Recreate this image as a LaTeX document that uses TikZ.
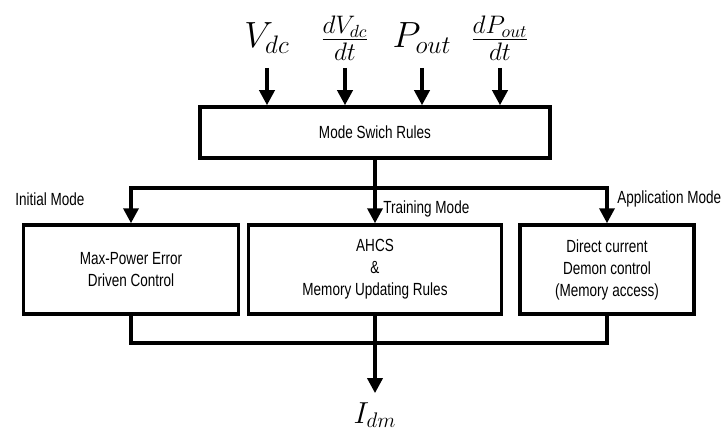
\documentclass[tikz,border=0pt]{standalone}
\usepackage{fontspec}
\setmainfont{Liberation Sans}[FakeStretch=0.77]
\usetikzlibrary{arrows.meta, positioning}
\tikzset{
  rulesnode/.style={draw, rectangle, line width=2pt, minimum width=7cm, minimum height=1.02cm, align=center, font=\fontsize{10}{12.5}\selectfont},
  modenode/.style={draw, rectangle, line width=2pt, minimum height=1.78cm, align=center, font=\fontsize{10}{12.5}\selectfont},
  modelabel/.style={inner sep=0pt, anchor=west, font=\fontsize{10}{12.5}\selectfont},
  signalnode/.style={inner sep=0pt, anchor=base, font=\fontsize{20}{24}\selectfont},
  arrow/.style={-{Triangle[length=0.3cm, width=0.3cm]}, line width=2pt},
  plainline/.style={line width=2pt}
}
\begin{document}
\begin{tikzpicture}[x=0.02cm, y=-0.02cm]
\useasboundingbox (0,0) rectangle (722,435);

% Nodes
\node[rulesnode] (rules) at (375,132.5) {Mode Swich Rules};
\node[modenode, minimum width=4.3cm] (initial) at (131,269.5) {Max-Power Error\\Driven Control};
\node[modenode, minimum width=5.06cm] (training) at (375,269.5) {AHCS\\\&\\Memory Updating Rules};
\node[modenode, minimum width=3.48cm] (application) at (607,269.5) {Direct current\\Demon control\\(Memory access)};

% Signals
\node[signalnode] (vdc) at (267,48) {$V_{dc}$};
\node[signalnode] (dvdc) at (345,48) {$\frac{dV_{dc}}{dt}$};
\node[signalnode] (pout) at (422,48) {$P_{out}$};
\node[signalnode] (dpout) at (500,48) {$\frac{dP_{out}}{dt}$};
\node[signalnode, font=\fontsize{18}{22}\selectfont] (idm) at (375,423) {$I_{dm}$};

% Mode labels
\node[modelabel] (initlabel) at (15,199) {Initial Mode};
\node[modelabel] (trainlabel) at (383,209) {Training Mode};
\node[modelabel] (applabel) at (617,199) {Application Mode};

\coordinate (intop) at (0,68);
\coordinate (split) at (375,188);
\coordinate (merge) at (375,343);

% Connections
\foreach \s in {vdc, dvdc, pout, dpout}
  \draw[arrow] (\s |- intop) -- (\s |- rules.north);
\draw[arrow] (rules.south) -- (training.north);
\draw[arrow] (split) -| (initial.north);
\draw[arrow] (split) -| (application.north);
\draw[plainline] (initial.south) |- (merge) -| (application.south);
\draw[arrow, shorten >=5pt] (training.south) -- (idm.north);

\end{tikzpicture}
\end{document}
